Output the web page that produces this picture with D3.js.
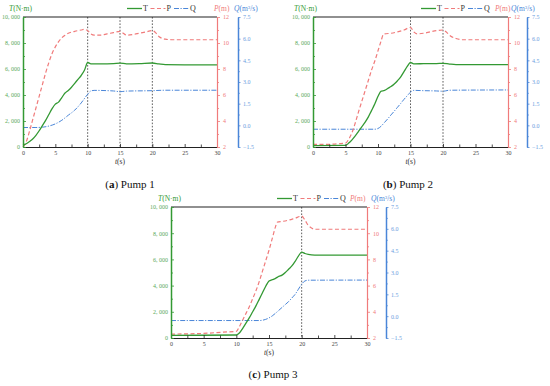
<!DOCTYPE html>
<html>
<head>
<meta charset="utf-8">
<script src="https://cdn.jsdelivr.net/npm/d3@7"></script>
<style>
  body { margin: 0; background: #fff; }
  svg { display: block; font-family: "Liberation Serif", "DejaVu Serif", serif; }
</style>
</head>
<body>
<svg id="chart" width="550" height="386"></svg>
<script>
// tick values
const timeTicks = [0, 5, 10, 15, 20, 25, 30];
const timeMinor = [2.5, 7.5, 12.5, 17.5, 22.5, 27.5];
const torqueTicks = [0, 2000, 4000, 6000, 8000, 10000];
const headTicks = [2, 4, 6, 8, 10, 12];
const flowTicks = [-1.5, 0, 1.5, 3, 4.5, 6, 7.5];

// series: [t (s), value]
const pump1Torque = [[0,150],[0.5,250],[1,420],[1.5,620],[2,900],[2.5,1250],[3,1650],[3.5,2050],[4,2500],[4.5,2950],[5,3300],[5.5,3450],[6,3800],[6.5,4150],[7,4350],[7.5,4600],[8,4900],[8.5,5200],[9,5500],[9.5,5900],[10,6500],[10.5,6400],[12,6400],[14,6420],[15,6450],[16,6400],[18,6420],[20,6460],[21,6390],[22,6330],[25,6320],[30,6320]];
const pump1Head = [[0,2.0],[0.5,2.4],[1,3.2],[1.5,4.1],[2,5.0],[2.5,5.9],[3,6.8],[3.5,7.7],[4,8.5],[4.5,9.2],[5,9.7],[5.5,10.1],[6,10.4],[6.5,10.6],[7,10.75],[8,10.9],[9,11.0],[9.5,11.05],[10,10.95],[10.5,10.7],[11,10.6],[12,10.6],[13,10.7],[14,10.8],[15,10.9],[15.5,10.75],[16,10.6],[17,10.65],[18,10.75],[19,10.85],[20,10.95],[20.5,10.8],[21,10.5],[22,10.3],[23,10.25],[30,10.25]];
const pump1Flow = [[0,-0.15],[2,-0.15],[3,-0.13],[4,-0.05],[5,0.1],[6,0.35],[7,0.7],[8,1.05],[9,1.55],[10,2.15],[10.5,2.38],[11,2.42],[14,2.38],[15,2.33],[16,2.37],[20,2.4],[22,2.43],[30,2.43]];
const pump1Marks = [10, 15, 20];

const pump2Torque = [[0,100],[5,120],[5.5,300],[6,550],[6.5,850],[7,1200],[7.5,1550],[8,1900],[8.5,2300],[9,2800],[9.5,3300],[10,3900],[10.5,4300],[11,4350],[11.5,4500],[12,4650],[12.5,4850],[13,5100],[13.5,5400],[14,5800],[14.5,6200],[15,6500],[15.5,6400],[17,6410],[19,6420],[20,6440],[21,6380],[22,6340],[30,6330]];
const pump2Head = [[0,2.2],[2,2.2],[4,2.25],[5,2.3],[5.5,2.6],[6,3.1],[6.5,3.85],[7,4.7],[7.5,5.5],[8,6.3],[8.5,7.1],[9,7.9],[9.5,8.6],[10,9.4],[10.5,10.2],[10.8,10.65],[11,10.7],[12,10.75],[13,10.85],[14,11.0],[15,11.2],[15.5,10.85],[16,10.7],[17,10.75],[18,10.85],[19,10.95],[20,11.0],[20.5,10.85],[21,10.6],[22,10.35],[23,10.25],[30,10.25]];
const pump2Flow = [[0,-0.27],[9.5,-0.27],[10,-0.22],[10.5,-0.05],[11,0.2],[11.5,0.45],[12,0.72],[12.5,0.98],[13,1.25],[13.5,1.52],[14,1.8],[14.5,2.05],[15,2.3],[15.5,2.42],[17,2.4],[19,2.38],[20,2.36],[21,2.43],[30,2.45]];
const pump2Marks = [15, 20];

const pump3Torque = [[0,200],[10,230],[10.5,400],[11,750],[11.5,1150],[12,1550],[12.5,2000],[13,2450],[13.5,2950],[14,3450],[14.5,3950],[15,4350],[15.5,4450],[16,4550],[16.5,4700],[17,4800],[17.5,5000],[18,5250],[18.5,5500],[19,5850],[19.5,6250],[20,6550],[20.5,6450],[21,6380],[22,6330],[30,6320]];
const pump3Head = [[0,2.3],[5,2.35],[8,2.45],[10,2.5],[10.5,2.9],[11,3.4],[11.5,3.9],[12,4.4],[12.5,5.0],[13,5.6],[13.5,6.3],[14,7.1],[14.5,7.9],[15,8.7],[15.5,9.6],[16,10.5],[16.3,10.85],[17,10.9],[18,11.0],[19,11.15],[20,11.3],[20.5,11.0],[21,10.6],[21.5,10.4],[22,10.3],[30,10.3]];
const pump3Flow = [[0,-0.3],[13.5,-0.3],[14,-0.28],[14.5,-0.22],[15,-0.12],[15.5,0.02],[16,0.2],[16.5,0.4],[17,0.6],[17.5,0.8],[18,1.0],[18.5,1.25],[19,1.5],[19.5,1.85],[20,2.2],[20.5,2.42],[21,2.47],[30,2.48]];
const pump3Marks = [20];

const seriesNames = ['T', 'P', 'Q'];
const panelLetters = ['a', 'b', 'c'];

const colT = '#339933', colP = '#f07b7b', colQ = '#4a86d8';

// panel placement on the page
const panels = [
  {left: 23, right: 217, top: 17, bottom: 147, qAxis: 238, titleX: 9, legX: 127, pLabX: 214, qLabX: 234, headY: 11, capX: 130, capY: 188,
   torque: pump1Torque, head: pump1Head, flow: pump1Flow, marks: pump1Marks},
  {left: 313, right: 508, top: 17, bottom: 147, qAxis: 527, titleX: 294, legX: 421, pLabX: 495, qLabX: 511, headY: 11, capX: 408, capY: 188,
   torque: pump2Torque, head: pump2Head, flow: pump2Flow, marks: pump2Marks},
  {left: 171, right: 367, top: 207, bottom: 338, qAxis: 386, titleX: 158, legX: 277, pLabX: 350, qLabX: 371, headY: 201, capX: 273, capY: 378,
   torque: pump3Torque, head: pump3Head, flow: pump3Flow, marks: pump3Marks}
];

const svg = d3.select('#chart');
svg.append('rect').attr('width', 550).attr('height', 386).attr('fill', '#fff');

const torqueFmt = d => d === 0 ? '0' : d3.format(',')(d).replace(',', ', ');

const styleAxis = (g, color, width) => {
  g.select('.domain').attr('stroke', color).attr('stroke-width', width);
  g.selectAll('.tick line').attr('stroke', color).attr('stroke-width', 0.8);
  g.selectAll('.tick text').attr('fill', color).attr('font-size', 6).attr('font-family', '"Liberation Serif", serif');
};

panels.forEach((p, i) => {
  const x = d3.scaleLinear().domain([0, 30]).range([p.left, p.right]);
  const yT = d3.scaleLinear().domain([0, 10000]).range([p.bottom, p.top]);
  const yP = d3.scaleLinear().domain([2, 12]).range([p.bottom, p.top]);
  const yQ = d3.scaleLinear().domain([-1.5, 7.5]).range([p.bottom, p.top]);

  const g = svg.append('g');

  // dotted markers
  g.selectAll('.mark')
    .data(p.marks)
    .enter()
    .append('line')
    .attr('x1', d => x(d)).attr('x2', d => x(d))
    .attr('y1', p.top).attr('y2', p.bottom)
    .attr('stroke', '#333').attr('stroke-width', 0.8)
    .attr('stroke-dasharray', '1.6,1.6');

  // curves
  const line = yScale => d3.line().x(d => x(d[0])).y(d => yScale(d[1])).curve(d3.curveMonotoneX);
  g.append('path').datum(p.flow).attr('d', line(yQ))
    .attr('fill', 'none').attr('stroke', colQ).attr('stroke-width', 1)
    .attr('stroke-dasharray', '5,1.5,1.2,1.5');
  g.append('path').datum(p.head).attr('d', line(yP))
    .attr('fill', 'none').attr('stroke', colP).attr('stroke-width', 1.2)
    .attr('stroke-dasharray', '4,2.5');
  g.append('path').datum(p.torque).attr('d', line(yT))
    .attr('fill', 'none').attr('stroke', colT).attr('stroke-width', 1.3);

  // top frame line
  g.append('line')
    .attr('x1', p.left).attr('x2', p.right)
    .attr('y1', p.top).attr('y2', p.top)
    .attr('stroke', '#222').attr('stroke-width', 1.2);

  // x axis
  const xg = g.append('g').attr('transform', `translate(0, ${p.bottom})`)
    .call(d3.axisBottom(x).tickValues(timeTicks).tickSizeInner(-3).tickSizeOuter(0).tickPadding(4));
  styleAxis(xg, '#222', 1.2);
  xg.selectAll('.tick text').attr('fill', '#444');
  const xm = g.append('g').attr('transform', `translate(0, ${p.bottom})`)
    .call(d3.axisBottom(x).tickValues(timeMinor).tickSizeInner(-2.5).tickSizeOuter(0).tickFormat(''));
  xm.select('.domain').remove();
  xm.selectAll('.tick line').attr('stroke', '#222').attr('stroke-width', 0.8);

  const xLabel = g.append('text')
    .attr('x', x(15)).attr('y', p.bottom + 17)
    .attr('text-anchor', 'middle').attr('font-size', 7.5).attr('fill', '#333');
  xLabel.append('tspan').attr('font-style', 'italic').text('t');
  xLabel.append('tspan').text('(s)');

  // left torque axis
  const lg = g.append('g').attr('transform', `translate(${p.left}, 0)`)
    .call(d3.axisLeft(yT).tickValues(torqueTicks).tickSizeInner(-3).tickSizeOuter(0).tickPadding(3).tickFormat(torqueFmt));
  styleAxis(lg, colT, 1.5);
  lg.selectAll('.tick text').attr('fill', '#5aaa5a');
  const lm = g.append('g').attr('transform', `translate(${p.left}, 0)`)
    .call(d3.axisLeft(yT).tickValues(d3.range(1000, 10000, 2000)).tickSizeInner(-2).tickSizeOuter(0).tickFormat(''));
  lm.select('.domain').remove();
  lm.selectAll('.tick line').attr('stroke', colT).attr('stroke-width', 0.8);

  // right head axis
  const rg = g.append('g').attr('transform', `translate(${p.right}, 0)`)
    .call(d3.axisRight(yP).tickValues(headTicks).tickSizeInner(3).tickSizeOuter(0).tickPadding(3));
  styleAxis(rg, colP, 1.2);
  const rm = g.append('g').attr('transform', `translate(${p.right}, 0)`)
    .call(d3.axisRight(yP).tickValues([3, 5, 7, 9, 11]).tickSizeInner(2).tickSizeOuter(0).tickFormat(''));
  rm.select('.domain').remove();
  rm.selectAll('.tick line').attr('stroke', colP).attr('stroke-width', 0.8);

  // flow axis
  const qg = g.append('g').attr('transform', `translate(${p.qAxis}, 0)`)
    .call(d3.axisRight(yQ).tickValues(flowTicks).tickSizeInner(2.5).tickSizeOuter(0).tickPadding(2.5).tickFormat(d3.format('.1f')));
  styleAxis(qg, colQ, 1.5);
  qg.selectAll('.tick text').attr('fill', '#6a9ee0');
  const qm = g.append('g').attr('transform', `translate(${p.qAxis}, 0)`)
    .call(d3.axisRight(yQ).tickValues(d3.range(-0.75, 7.5, 1.5)).tickSizeInner(1.8).tickSizeOuter(0).tickFormat(''));
  qm.select('.domain').remove();
  qm.selectAll('.tick line').attr('stroke', colQ).attr('stroke-width', 0.8);

  // axis titles
  const tTitle = g.append('text').attr('x', p.titleX).attr('y', p.headY)
    .attr('font-size', 7.5).attr('fill', colT);
  tTitle.append('tspan').attr('font-style', 'italic').text('T');
  tTitle.append('tspan').text('(N·m)');

  const pTitle = g.append('text').attr('x', p.pLabX).attr('y', p.headY)
    .attr('font-size', 7.5).attr('fill', colP);
  pTitle.append('tspan').attr('font-style', 'italic').text('P');
  pTitle.append('tspan').text('(m)');

  const qTitle = g.append('text').attr('x', p.qLabX).attr('y', p.headY)
    .attr('font-size', 7.5).attr('fill', colQ);
  qTitle.append('tspan').attr('font-style', 'italic').text('Q');
  qTitle.append('tspan').text('(m');
  qTitle.append('tspan').attr('font-size', 5).attr('dy', -2.5).text('3');
  qTitle.append('tspan').attr('dy', 2.5).text('/s)');

  // legend
  const legendStyle = [
    {color: colT, dash: null, w: 1.3},
    {color: colP, dash: '4,2.5', w: 1.2},
    {color: colQ, dash: '5,1.5,1.2,1.5', w: 1}
  ];
  const leg = g.append('g').attr('transform', `translate(${p.legX}, ${p.headY - 2.5})`);
  const item = leg.selectAll('.legend-item')
    .data(seriesNames)
    .enter()
    .append('g')
    .attr('transform', (d, k) => `translate(${k * 23.5}, 0)`);
  item.append('line')
    .attr('x1', 0).attr('x2', 15)
    .attr('stroke', (d, k) => legendStyle[k].color)
    .attr('stroke-width', (d, k) => legendStyle[k].w)
    .attr('stroke-dasharray', (d, k) => legendStyle[k].dash);
  item.append('text')
    .attr('x', 16).attr('y', 2.8)
    .attr('font-size', 8).attr('fill', '#333')
    .text(d => d);

  // caption
  const cap = svg.append('text')
    .attr('x', p.capX).attr('y', p.capY)
    .attr('text-anchor', 'middle').attr('font-size', 11).attr('fill', '#111');
  cap.append('tspan').text('(');
  cap.append('tspan').attr('font-weight', 'bold').text(panelLetters[i]);
  cap.append('tspan').text(`) Pump ${i + 1}`);
});
</script>
</body>
</html>
